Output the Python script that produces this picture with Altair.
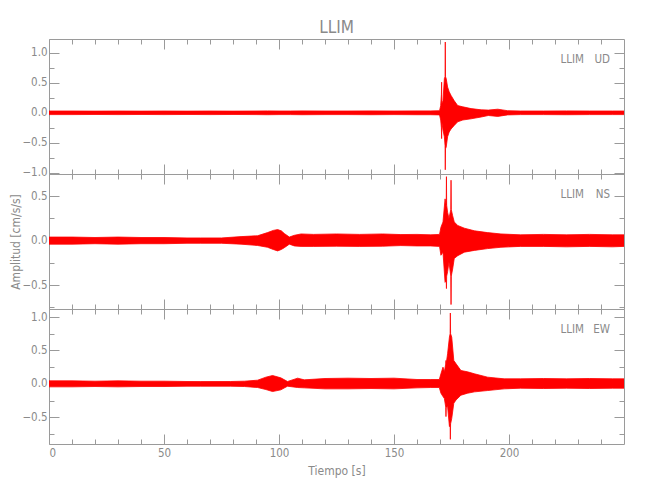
import altair as alt
import pandas as pd

# ---------------- data (envelopes) ----------------
x_major = [0, 50, 100, 150, 200]
x_minor = list(range(10, 250, 10))

ud_t = [0, 10, 20, 30, 40, 50, 60, 70, 80, 90,
        95, 100, 105, 110, 120, 130, 140, 150, 160, 166,
        169.8, 170.3, 170.6, 170.7, 170.8, 171.3, 171.9, 172.2, 172.3, 172.4,
        172.7, 173.3, 174.0, 174.8, 176.2, 177.7, 179.9, 183.5, 187.9, 191.0,
        195.1, 199.4, 205, 215, 225, 235, 245, 250]
ud_hi = [0.03, 0.03, 0.028, 0.03, 0.028, 0.03, 0.028, 0.03, 0.028, 0.03,
         0.032, 0.03, 0.03, 0.032, 0.03, 0.03, 0.032, 0.03, 0.032, 0.032,
         0.035, 0.12, 0.3, 0.51, 0.15, 0.2, 0.57, 0.6, 1.18, 0.6,
         0.57, 0.43, 0.35, 0.29, 0.2, 0.12, 0.10, 0.07, 0.05, 0.045,
         0.06, 0.035, 0.03, 0.03, 0.032, 0.03, 0.03, 0.03]
ud_lo = [-0.03, -0.03, -0.028, -0.03, -0.028, -0.03, -0.028, -0.03, -0.028, -0.03,
         -0.032, -0.03, -0.03, -0.032, -0.03, -0.03, -0.032, -0.03, -0.032, -0.032,
         -0.035, -0.12, -0.25, -0.43, -0.15, -0.29, -0.40, -0.55, -0.95, -0.6,
         -0.57, -0.40, -0.32, -0.27, -0.21, -0.15, -0.12, -0.10, -0.07, -0.045,
         -0.06, -0.035, -0.03, -0.03, -0.032, -0.03, -0.03, -0.03]

ns_t = [0, 10, 20, 30, 40, 50, 60, 66, 75, 83.5,
        90.7, 95, 97.5, 99.4, 101, 102.3, 104.5, 106.7, 109.6, 115,
        125, 135, 145, 153, 160, 166, 169.8, 170.4, 171.3, 172.2,
        172.7, 172.8, 172.9, 173.3, 173.9, 174.7, 174.8, 174.9, 175.5, 176.2,
        177.7, 180.6, 185, 190.7, 196.5, 205, 215, 225, 235, 245,
        250]
ns_hi = [0.04, 0.04, 0.035, 0.04, 0.035, 0.035, 0.03, 0.03, 0.03, 0.045,
         0.055, 0.09, 0.115, 0.124, 0.11, 0.08, 0.04, 0.06, 0.075, 0.07,
         0.075, 0.07, 0.075, 0.068, 0.07, 0.065, 0.07, 0.15, 0.21, 0.47,
         0.4, 0.72, 0.4, 0.32, 0.25, 0.35, 0.68, 0.35, 0.28, 0.21,
         0.17, 0.14, 0.11, 0.09, 0.075, 0.065, 0.07, 0.065, 0.07, 0.065,
         0.065]
ns_lo = [-0.04, -0.04, -0.035, -0.04, -0.035, -0.035, -0.03, -0.03, -0.03, -0.04,
         -0.055, -0.075, -0.1, -0.116, -0.1, -0.08, -0.04, -0.06, -0.065, -0.065,
         -0.063, -0.065, -0.063, -0.056, -0.06, -0.06, -0.065, -0.165, -0.13, -0.47,
         -0.45, -0.54, -0.4, -0.35, -0.24, -0.4, -0.72, -0.4, -0.32, -0.2,
         -0.17, -0.13, -0.11, -0.09, -0.075, -0.065, -0.065, -0.07, -0.065, -0.07,
         -0.065]

ew_t = [0, 10, 20, 30, 40, 50, 60, 66, 79, 85,
        90.7, 94.3, 97.2, 100.8, 103.7, 108.1, 111, 120, 130, 140,
        150, 160, 166, 169.7, 170.4, 171.3, 171.9, 172.5, 172.6, 172.7,
        173.3, 174.1, 174.4, 174.5, 174.6, 175.1, 176.0, 177.0, 179.1, 182.0,
        185, 190.7, 197.9, 205, 215, 225, 235, 245, 250]
ew_hi = [0.045, 0.045, 0.04, 0.045, 0.04, 0.04, 0.035, 0.034, 0.035, 0.04,
         0.055, 0.10, 0.125, 0.09, 0.035, 0.085, 0.06, 0.08, 0.085, 0.08,
         0.085, 0.065, 0.065, 0.065, 0.15, 0.25, 0.18, 0.3, 0.35, 0.3,
         0.45, 0.7, 0.75, 1.06, 0.75, 0.70, 0.35, 0.30, 0.2, 0.18,
         0.15, 0.1, 0.075, 0.075, 0.08, 0.075, 0.08, 0.075, 0.075]
ew_lo = [-0.045, -0.045, -0.04, -0.045, -0.04, -0.04, -0.035, -0.035, -0.035, -0.04,
         -0.055, -0.085, -0.115, -0.09, -0.035, -0.055, -0.06, -0.075, -0.075, -0.07,
         -0.075, -0.06, -0.055, -0.055, -0.14, -0.19, -0.22, -0.35, -0.49, -0.35,
         -0.34, -0.64, -0.6, -0.83, -0.6, -0.52, -0.29, -0.24, -0.17, -0.14,
         -0.12, -0.1, -0.075, -0.065, -0.07, -0.065, -0.07, -0.065, -0.065]

FONT = "DejaVu Sans Condensed, DejaVu Sans, sans-serif"
GRAY = "#8a8a8a"
AX = "#9a9a9a"
RED = "#ff0000"
W, H = 575, 135


def axis(orient, values, size, labels=False, title=None, fmt=None, tpad=None, tx=None):
    kw = dict(orient=orient, values=values, tickSize=size, offset=-size,
              labels=labels, domain=False, grid=False, tickColor=AX,
              tickWidth=1, title=title)
    if labels:
        kw["labelPadding"] = 2 if orient in ("left", "right") else 3
        kw["format"] = fmt
    if tpad is not None:
        kw["titlePadding"] = tpad
    if tx is not None:
        kw["titleX"] = tx
    return alt.Axis(**kw)


def panel(t, hi, lo, ydom, ymaj, ymin, code, bottom=False, ytitle=None, title=None):
    df = pd.DataFrame({"t": t, "hi": hi, "lo": lo})
    base = alt.Chart(df)
    xs = alt.Scale(domain=[0, 250], nice=False, zero=False)
    ys = alt.Scale(domain=ydom, nice=False, zero=False)

    yax = axis("left", ymaj, 10, labels=True, title=ytitle, fmt=".1f",
               tx=-37 if ytitle else None)
    area = base.mark_area(color=RED, opacity=1).encode(
        x=alt.X("t:Q", scale=xs,
                axis=axis("bottom", x_major, 10, labels=bottom,
                          title="Tiempo [s]" if bottom else None, fmt="d", tpad=7)),
        y=alt.Y("hi:Q", scale=ys, axis=yax),
        y2="lo:Q",
    )
    line_hi = base.mark_line(color=RED, strokeWidth=0.8).encode(
        x=alt.X("t:Q", scale=xs, axis=axis("bottom", x_minor, 5)),
        y=alt.Y("hi:Q", scale=ys, axis=axis("left", ymin, 5)),
    )
    line_lo = base.mark_line(color=RED, strokeWidth=0.8).encode(
        x=alt.X("t:Q", scale=xs, axis=axis("top", x_major, 10)),
        y=alt.Y("lo:Q", scale=ys, axis=axis("right", ymaj, 10)),
    )
    dummy = base.mark_line(opacity=0).encode(
        x=alt.X("t:Q", scale=xs, axis=axis("top", x_minor, 5)),
        y=alt.Y("hi:Q", scale=ys, axis=axis("right", ymin, 5)),
    )
    lab_df = pd.DataFrame({"a": ["LLIM"], "b": [code]})
    lab1 = alt.Chart(lab_df).mark_text(align="right", baseline="middle", font=FONT,
                                       fontSize=11.5, color=GRAY).encode(
        x=alt.value(535), y=alt.value(21), text="a:N")
    lab2 = alt.Chart(lab_df).mark_text(align="right", baseline="middle", font=FONT,
                                       fontSize=11.5, color=GRAY).encode(
        x=alt.value(561), y=alt.value(21), text="b:N")
    ch = alt.layer(area, line_hi, line_lo, dummy, lab1, lab2).resolve_axis(
        x="independent", y="independent").properties(width=W, height=H)
    if title:
        ch = ch.properties(title=alt.TitleParams(title, anchor="middle", frame="group",
                                                 font=FONT, fontSize=17, color=GRAY,
                                                 fontWeight="normal", offset=2))
    return ch


q = [-1.0, -0.75, -0.5, -0.25, 0.0, 0.25, 0.5, 0.75, 1.0]
p1 = panel(ud_t, ud_hi, ud_lo, [-1.02, 1.23], [-1.0, -0.5, 0.0, 0.5, 1.0], q, "UD", title="LLIM")
p2 = panel(ns_t, ns_hi, ns_lo, [-0.77, 0.75], [-0.5, 0.0, 0.5], q[1:-1], "NS",
           ytitle="Amplitud [cm/s/s]")
p3 = panel(ew_t, ew_hi, ew_lo, [-0.9, 1.12], [-0.5, 0.0, 0.5, 1.0], q[1:], "EW", bottom=True)

chart = alt.vconcat(p1, p2, p3, spacing=0, bounds="flush").properties(
    padding={"left": 0, "top": 10, "right": 5, "bottom": 5}
).configure_view(stroke=AX, strokeWidth=1).configure_axis(
    labelFont=FONT, labelFontSize=11.5, labelColor=GRAY,
    titleFont=FONT, titleFontSize=12, titleColor=GRAY, titleFontWeight="normal",
)

chart.save("out.html", embed_options={"renderer": "svg", "actions": False})
